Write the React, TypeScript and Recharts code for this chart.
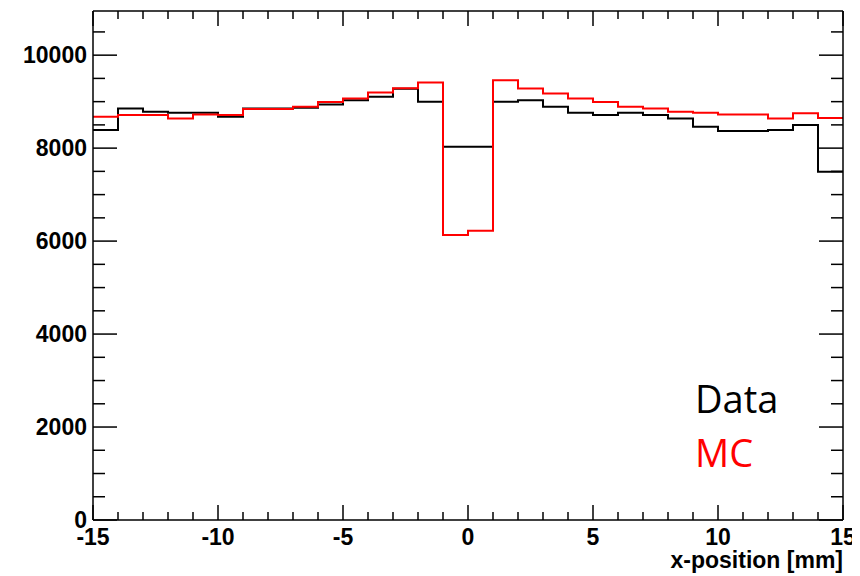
import { LineChart, Line, XAxis, YAxis, Label } from 'recharts';

// bin lower edges, 1 mm bins from -15 to 15
const binEdges = [
  -15, -14, -13, -12, -11, -10, -9, -8, -7, -6, -5, -4, -3, -2, -1,
  0, 1, 2, 3, 4, 5, 6, 7, 8, 9, 10, 11, 12, 13, 14, 15,
];
const dataCounts = [
  8390, 8850, 8780, 8760, 8760, 8675, 8850, 8850, 8870, 8940,
  9030, 9105, 9280, 9000, 8030, 8030, 9000, 9030, 8890, 8760,
  8710, 8760, 8710, 8640, 8460, 8370, 8370, 8390, 8495, 7490,
];
const mcCounts = [
  8675, 8710, 8710, 8640, 8725, 8710, 8840, 8840, 8890, 8995,
  9070, 9195, 9290, 9410, 6130, 6220, 9460, 9285, 9175, 9070,
  8995, 8890, 8855, 8780, 8760, 8725, 8725, 8640, 8750, 8650,
];
const xTicks = binEdges;
const yTicks = [
  0, 500, 1000, 1500, 2000, 2500, 3000, 3500, 4000, 4500, 5000,
  5500, 6000, 6500, 7000, 7500, 8000, 8500, 9000, 9500, 10000, 10500,
];

// last edge repeats the last bin so the step reaches x = 15
const rows = binEdges.map((x, i) => ({
  x,
  data: dataCounts[Math.min(i, dataCounts.length - 1)],
  mc: mcCounts[Math.min(i, mcCounts.length - 1)],
}));

const FONT = '"Liberation Sans", Arial, Helvetica, sans-serif';

function XTick(props: any) {
  const { x, y, payload, side } = props;
  const major = payload.value % 5 === 0;
  const len = major ? 15 : 8;
  const dir = side === 'top' ? 1 : -1;
  return (
    <g>
      <line x1={x} x2={x} y1={y} y2={y + dir * len} stroke="#000" strokeWidth={1.5} />
      {side !== 'top' && major && (
        <text x={x} y={y + 25} textAnchor="middle" fontFamily={FONT} fontWeight="bold" fontSize={23} fill="#000">
          {payload.value}
        </text>
      )}
    </g>
  );
}

function YTick(props: any) {
  const { x, y, payload, side } = props;
  const major = payload.value % 2000 === 0;
  const len = major ? 24 : 12;
  const dir = side === 'right' ? -1 : 1;
  return (
    <g>
      <line x1={x} x2={x + dir * len} y1={y} y2={y} stroke="#000" strokeWidth={1.5} />
      {side !== 'right' && major && (
        <text x={x - 6} y={y + 8} textAnchor="end" fontFamily={FONT} fontWeight="bold" fontSize={23} fill="#000">
          {payload.value}
        </text>
      )}
    </g>
  );
}

export default function App() {
  return (
    <div style={{ position: 'relative', width: 852, height: 568 }}>
      <style>{'body { overflow: hidden; }'}</style>
      <LineChart
        width={852}
        height={568}
        data={rows}
        margin={{ top: 2, right: 16, bottom: 0, left: 5 }}
      >
        <XAxis
          xAxisId="b"
          dataKey="x"
          type="number"
          domain={[-15, 15]}
          ticks={xTicks}
          interval={0}
          height={56}
          tickSize={0}
          tickMargin={0}
          tickLine={false}
          axisLine={{ stroke: '#000', strokeWidth: 1.5 }}
          tick={(p: any) => <XTick {...p} side="bottom" />}
        >
          <Label
            content={(p: any) => {
              const vb = p.viewBox;
              return (
                <text
                  x={vb.x + vb.width}
                  y={vb.y + 48}
                  textAnchor="end"
                  fontFamily={FONT}
                  fontWeight="bold"
                  fontSize={23}
                  fill="#000"
                >
                  x-position [mm]
                </text>
              );
            }}
          />
        </XAxis>
        <XAxis
          xAxisId="t"
          dataKey="x"
          type="number"
          orientation="top"
          domain={[-15, 15]}
          ticks={xTicks}
          interval={0}
          height={1}
          tickSize={0}
          tickMargin={0}
          tickLine={false}
          axisLine={{ stroke: '#000', strokeWidth: 1.5 }}
          tick={(p: any) => <XTick {...p} side="top" />}
        />
        <YAxis
          yAxisId="l"
          type="number"
          domain={[0, 10950]}
          ticks={yTicks}
          interval={0}
          width={80}
          tickSize={0}
          tickMargin={0}
          tickLine={false}
          axisLine={{ stroke: '#000', strokeWidth: 1.5 }}
          tick={(p: any) => <YTick {...p} side="left" />}
        />
        <YAxis
          yAxisId="r"
          type="number"
          orientation="right"
          domain={[0, 10950]}
          ticks={yTicks}
          interval={0}
          width={1}
          tickSize={0}
          tickMargin={0}
          tickLine={false}
          axisLine={{ stroke: '#000', strokeWidth: 1.5 }}
          tick={(p: any) => <YTick {...p} side="right" />}
        />
        {/* invisible copy so the top/right frame axes get their ticks */}
        <Line
          xAxisId="t"
          yAxisId="r"
          type="stepAfter"
          dataKey="data"
          stroke="none"
          strokeOpacity={0}
          dot={false}
          legendType="none"
          isAnimationActive={false}
        />
        <Line
          xAxisId="b"
          yAxisId="l"
          type="stepAfter"
          dataKey="data"
          stroke="#000"
          strokeWidth={2}
          dot={false}
          isAnimationActive={false}
        />
        <Line
          xAxisId="b"
          yAxisId="l"
          type="stepAfter"
          dataKey="mc"
          stroke="#ff0000"
          strokeWidth={2}
          dot={false}
          isAnimationActive={false}
        />
      </LineChart>
      <svg
        width={852}
        height={568}
        style={{ position: 'absolute', left: 0, top: 0, pointerEvents: 'none' }}
      >
        <text x={687} y={405} fontFamily='"Open Sans", sans-serif' fontSize={38} fill="#000">
          Data
        </text>
        <text x={687} y={459} fontFamily='"Open Sans", sans-serif' fontSize={38} fill="#ff0000">
          MC
        </text>
      </svg>
    </div>
  );
}
